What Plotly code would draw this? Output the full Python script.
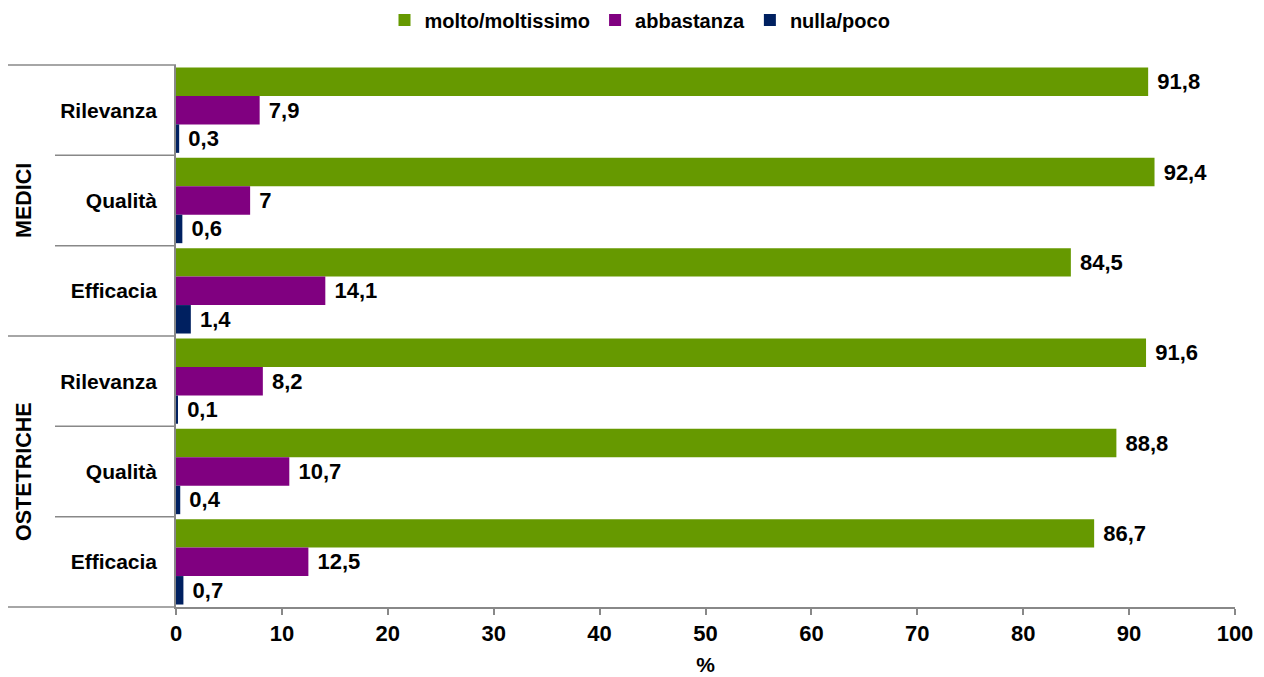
import plotly.graph_objects as go

categories = ["Rilevanza", "Qualità", "Efficacia", "Rilevanza", "Qualità", "Efficacia"]
groups = ["MEDICI", "OSTETRICHE"]
series_names = ["molto/moltissimo", "abbastanza", "nulla/poco"]
molto = [91.8, 92.4, 84.5, 91.6, 88.8, 86.7]
abbastanza = [7.9, 7.0, 14.1, 8.2, 10.7, 12.5]
nulla = [0.3, 0.6, 1.4, 0.1, 0.4, 0.7]
colors = ["#669900", "#800080", "#002060"]
x_ticks = [0, 10, 20, 30, 40, 50, 60, 70, 80, 90, 100]

FONT = "Liberation Sans"
BOLD = "<b>%s</b>"

def fmt(v):
    s = ("%.1f" % v).rstrip("0").rstrip(".")
    return "\u00a0" + BOLD % s.replace(".", ",")

pos = list(range(len(categories)))
fig = go.Figure()
for name, vals, col in zip(series_names, [molto, abbastanza, nulla], colors):
    fig.add_trace(go.Bar(
        y=pos, x=vals, orientation="h", name=BOLD % name,
        marker=dict(color=col, line=dict(width=0)),
        text=[fmt(v) for v in vals], textposition="outside",
        textfont=dict(size=22, color="black", family=FONT),
        cliponaxis=False,
    ))

# page is offset by the 8px body margin
W, H = 1256, 669
L, R, T, B = 168, 29, 57, 70
pw = W - L - R
ph = H - T - B

def px_x(p):
    return (p - L) / pw

shapes = []
n = len(categories)
for i in range(n + 1):
    yp = i / n
    outer = i in (0, 3, 6)
    x0 = px_x(0) if outer else px_x(47)
    shapes.append(dict(type="line", xref="paper", yref="paper", x0=x0, x1=0,
                       y0=yp, y1=yp, line=dict(color="#888888", width=1.5)))

annotations = [
    dict(text=BOLD % groups[0], xref="paper", yref="paper", x=px_x(15.5), y=0.75,
         xanchor="center", yanchor="middle",
         textangle=-90, showarrow=False, font=dict(size=21.5, color="black", family=FONT)),
    dict(text=BOLD % groups[1], xref="paper", yref="paper", x=px_x(15.5), y=0.25,
         xanchor="center", yanchor="middle",
         textangle=-90, showarrow=False, font=dict(size=21.5, color="black", family=FONT)),
]

fig.update_layout(
    width=W, height=H,
    margin=dict(l=L, r=R, t=T, b=B, autoexpand=False),
    paper_bgcolor="white", plot_bgcolor="white",
    barmode="group", bargap=0.055, bargroupgap=0.0,
    font=dict(family=FONT, size=21, color="black"),
    showlegend=True,
    legend=dict(orientation="h", xref="container", yref="container",
                x=632 / W, xanchor="center", y=1 - 12 / H, yanchor="middle",
                font=dict(size=20), traceorder="normal", itemwidth=30,
                bgcolor="rgba(0,0,0,0)"),
    shapes=shapes, annotations=annotations,
    xaxis=dict(range=[0, 100], tickvals=x_ticks, ticktext=[BOLD % t for t in x_ticks],
               showgrid=False, zeroline=False, showline=True, linecolor="#888888", linewidth=1.5,
               ticks="outside", tickcolor="#888888", ticklen=6, tickwidth=1.5,
               title=dict(text=BOLD % "%", font=dict(size=21), standoff=12),
               tickfont=dict(size=22)),
    yaxis=dict(range=[n - 0.5, -0.5], tickvals=pos, ticktext=[BOLD % c for c in categories],
               showgrid=False, zeroline=False, showline=True, linecolor="#888888", linewidth=1.5,
               ticks="", ticklabelstandoff=13, tickfont=dict(size=21)),
)

fig.write_html("out.html")
